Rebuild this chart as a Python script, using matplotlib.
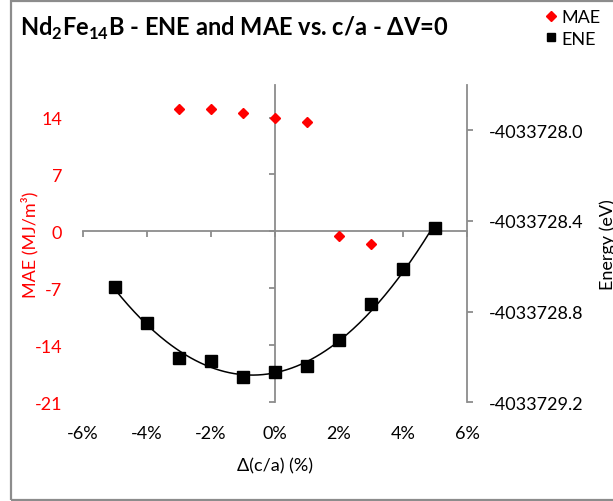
import numpy as np
import matplotlib
matplotlib.use('Agg')
import matplotlib.pyplot as plt
from matplotlib.patches import Rectangle
from matplotlib.ticker import MultipleLocator, FormatStrFormatter, FuncFormatter

# Delta(c/a) in %, energy in eV for every point
dca = [-5, -4, -3, -2, -1, 0, 1, 2, 3, 4, 5]
ene = [-4033728.693, -4033728.852, -4033729.006, -4033729.019, -4033729.090,
       -4033729.068, -4033729.039, -4033728.927, -4033728.768, -4033728.614,
       -4033728.433]

# MAE only computed for part of the range
mae_dca = [-3, -2, -1, 0, 1, 2, 3]
mae = [15.0, 15.1, 14.55, 13.9, 13.4, -0.5, -1.6]

mae_ticks = [-21, -14, -7, 0, 7, 14]

plt.rcParams['font.family'] = ['Lato', 'DejaVu Sans']
plt.rcParams['axes.unicode_minus'] = False
plt.rcParams['mathtext.fontset'] = 'custom'
plt.rcParams['mathtext.bf'] = 'Lato:bold'
plt.rcParams['mathtext.rm'] = 'Lato'
plt.rcParams['font.size'] = 13

axis_gray = '#8c8c8c'
fig = plt.figure(figsize=(6.13, 5.02), dpi=100)
ax = fig.add_axes([83 / 613, 1 - 403.3 / 502, 384 / 613, 317.3 / 502])
ax.patch.set_alpha(0)

# chart border (cut on the right like the screenshot)
fig.add_artist(Rectangle((11 / 613, 1 - 500.7 / 502), 1.2, (499 / 502),
                         transform=fig.transFigure, fill=False,
                         edgecolor=axis_gray, lw=1.6))

# primary axis: MAE
ax.plot(mae_dca, mae, 'D', color='#ff0000', ms=5.5, mec='#ff0000', label='MAE', zorder=4)
ax.set_xlim(-6, 6)
ax.set_ylim(-21, 18)
ax.set_yticks(mae_ticks)
ax.xaxis.set_major_locator(MultipleLocator(2))

for s in ['top', 'right']:
    ax.spines[s].set_visible(False)
ax.spines['left'].set_position(('data', 0))
ax.spines['bottom'].set_position(('data', 0))
for s in ['left', 'bottom']:
    ax.spines[s].set_color(axis_gray)
    ax.spines[s].set_linewidth(1.3)
ax.tick_params(axis='both', direction='out', length=4.5, width=1.3, color=axis_gray,
               labelleft=False, labelbottom=False)
ax.set_ylabel('MAE (MJ/m³)', color='#ff0000')
ax.yaxis.set_label_coords(-0.115, 0.5)
ax.set_xlabel('Δ(c/a) (%)')
ax.xaxis.set_label_coords(0.5, -0.172)

# tick labels sit at the low side of the plot area
sec_y = ax.secondary_yaxis(0.0)
sec_y.spines['left'].set_visible(False)
sec_y.set_yticks(mae_ticks)
sec_y.tick_params(length=0, pad=15, labelcolor='#ff0000')

sec_x = ax.secondary_xaxis(0.0)
sec_x.spines['bottom'].set_visible(False)
sec_x.xaxis.set_major_locator(MultipleLocator(2))
sec_x.xaxis.set_major_formatter(FuncFormatter(lambda v, p: '%d%%' % round(v)))
sec_x.tick_params(length=0, pad=16)

# secondary axis: energy
ax2 = ax.twinx()
ax2.plot(dca, ene, 's', color='black', ms=8, label='ENE', zorder=3)
coef = np.polyfit(dca, np.array(ene) - ene[5], 2)
xs = np.linspace(dca[0], dca[-1], 200)
ax2.plot(xs, np.polyval(coef, xs) + ene[5], color='black', lw=1.1, zorder=2)
ax2.set_ylim(-4033729.2, -4033727.8)
ax2.yaxis.set_major_locator(MultipleLocator(0.4))
ax2.yaxis.set_major_formatter(FormatStrFormatter('%.1f'))
for s in ['top', 'left', 'bottom']:
    ax2.spines[s].set_visible(False)
ax2.spines['right'].set_color(axis_gray)
ax2.spines['right'].set_linewidth(1.3)
ax2.tick_params(axis='y', direction='out', length=4.5, width=1.3, color=axis_gray, pad=11)
ax2.set_ylabel('Energy (eV)')
ax2.yaxis.set_label_coords(1.346, 0.5)

fig.text(20 / 613, 1 - 28 / 502, 'Nd$_\\mathbf{2}$Fe$_\\mathbf{14}$B - ENE and MAE vs. c/a - ΔV=0',
         fontsize=17, fontweight='bold', va='center', ha='left')

h1, l1 = ax.get_legend_handles_labels()
h2, l2 = ax2.get_legend_handles_labels()
leg = fig.legend(h1 + h2, l1 + l2, loc='upper left', bbox_to_anchor=(538 / 613, 1 - 3 / 502),
                 frameon=False, handlelength=0.6, handletextpad=0.3, labelspacing=0.3,
                 borderaxespad=0)
leg.legend_handles[1].set_markersize(6)

fig.savefig('out.png', dpi=100)
